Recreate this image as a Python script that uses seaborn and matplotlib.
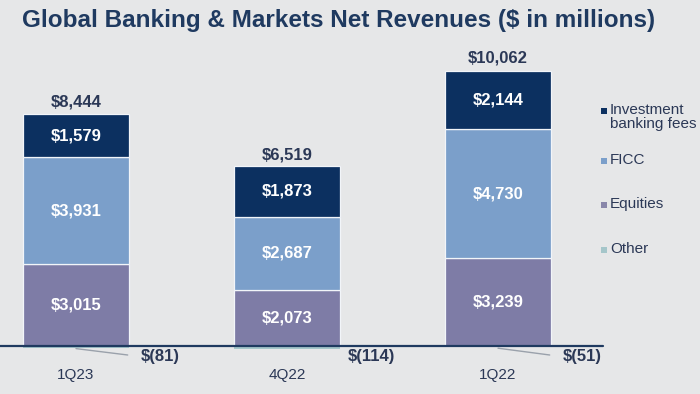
import matplotlib
matplotlib.use("Agg")
import matplotlib.pyplot as plt
import seaborn as sns
import numpy as np
import pandas as pd

# ---- data ----
quarters = ["1Q23", "4Q22", "1Q22"]
ib_fees = [1579, 1873, 2144]
ficc = [3931, 2687, 4730]
equities = [3015, 2073, 3239]
other = [-81, -114, -51]
totals = [8444, 6519, 10062]
series_names = ["Investment\nbanking fees", "FICC", "Equities", "Other"]

# ---- style ----
BG = "#e6e7e8"
C_IB = "#0c3060"
C_FICC = "#7b9fca"
C_EQ = "#7e7ca6"
C_OTHER = "#a5c6ca"
NAVY = "#1f3a60"
TXT = "#2b3856"

sns.set_theme(style="white")
plt.rcParams["font.family"] = ["Liberation Sans", "DejaVu Sans"]

W, H = 700, 394
fig = plt.figure(figsize=(W / 100, H / 100), dpi=100, facecolor=BG)
ax = fig.add_axes([0, 0, 1, 1], facecolor=BG)

df = pd.DataFrame({"quarter": quarters, "ib": ib_fees, "ficc": ficc,
                   "eq": equities, "other": other})
b_ficc = np.array(equities)
b_ib = np.array(equities) + np.array(ficc)

edge = dict(edgecolor="#f2f5f9", linewidth=0.9)
sns.barplot(data=df, x="quarter", y="eq", color=C_EQ, width=0.5,
            errorbar=None, saturation=1, ax=ax, **edge)
sns.barplot(data=df, x="quarter", y="ficc", bottom=b_ficc, color=C_FICC,
            width=0.5, errorbar=None, saturation=1, ax=ax, **edge)
sns.barplot(data=df, x="quarter", y="ib", bottom=b_ib, color=C_IB,
            width=0.5, errorbar=None, saturation=1, ax=ax, **edge)
sns.barplot(data=df, x="quarter", y="other", color=C_OTHER, width=0.5,
            errorbar=None, saturation=1, ax=ax, linewidth=0)

# pixel mapping: bars centred at 76/287/498 px, baseline at 346 px
px_per_cat = 211.0
x0 = 76.0
unit_per_px = 36.76
ax.set_xlim(-x0 / px_per_cat, (W - x0) / px_per_cat)
ax.set_ylim(-(H - 346) * unit_per_px, 346 * unit_per_px)
ax.set_axis_off()

# baseline
ax.axhline(0, xmin=0, xmax=603 / W, color=NAVY, linewidth=1.6, zorder=5)

# labels inside segments
for i in range(len(quarters)):
    segs = [(equities[i], 0), (ficc[i], b_ficc[i]), (ib_fees[i], b_ib[i])]
    for v, b in segs:
        ax.text(i, b + v / 2, f"${v:,}", color="white", fontsize=12,
                fontweight="bold", ha="center", va="center", zorder=6)
    ax.text(i, totals[i] + 14 * unit_per_px, f"${totals[i]:,}", color=TXT,
            fontsize=12, fontweight="bold", ha="center", va="center")
    ax.text(i, -29 * unit_per_px, quarters[i], color=TXT, fontsize=11,
            ha="center", va="center")
    # other labels
    lbl_xy = (i + 0.40, -11 * unit_per_px)
    ax.text(*lbl_xy, f"$({abs(other[i])})", color=TXT, fontsize=12,
            fontweight="bold", ha="center", va="center", zorder=6)
    if i != 1:
        ax.plot([i, i + 0.245], [other[i] / 2 - 1.5 * unit_per_px, -9 * unit_per_px],
                color="#9aa1ab", linewidth=1.0, zorder=4)

# legend (manual)
leg_colors = [C_IB, C_FICC, "#8987aa", C_OTHER]
leg_y = [111, 161, 205, 250]
for name, col, yy in zip(series_names, leg_colors, leg_y):
    yf = 1 - yy / H
    ax.scatter([604 / W], [yf], marker="s", s=22, color=col,
               transform=ax.transAxes, zorder=7, linewidths=0)
    ax.text(610 / W, 1 - (yy - 8) / H, name, transform=ax.transAxes,
            fontsize=11, color=TXT, ha="left", va="top", linespacing=1.0)

# title
fig.text(22 / W, 1 - 20 / H, "Global Banking & Markets Net Revenues ($ in millions)",
         fontsize=17.5, fontweight="bold", color=NAVY, ha="left", va="center")

fig.savefig("out.png", dpi=100, facecolor=BG)
